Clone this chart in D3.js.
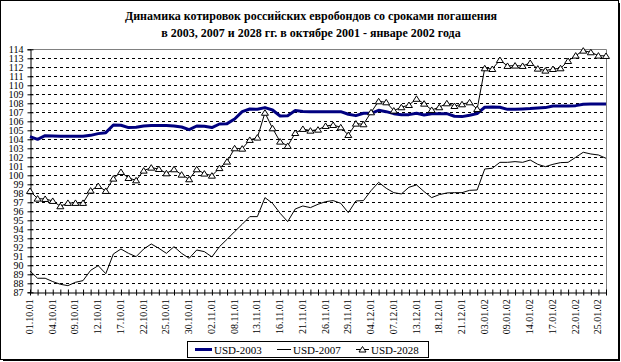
<!DOCTYPE html>
<html>
<head>
<meta charset="utf-8">
<script src="https://cdn.jsdelivr.net/npm/d3@7"></script>
<style>
  html, body { margin: 0; padding: 0; background: #fff; }
  svg text { font-family: "Liberation Serif", "Times New Roman", serif; fill: #000; }
</style>
</head>
<body>
<div id="main"></div>
<script>
// торговые дни (категории оси X)
const dates = [
  '01.10.01','02.10.01','03.10.01','04.10.01','05.10.01','08.10.01','09.10.01','10.10.01','11.10.01','12.10.01',
  '15.10.01','16.10.01','17.10.01','18.10.01','19.10.01','22.10.01','23.10.01','24.10.01','25.10.01','26.10.01',
  '29.10.01','30.10.01','31.10.01','01.11.01','02.11.01','05.11.01','06.11.01','08.11.01','09.11.01','12.11.01',
  '13.11.01','14.11.01','15.11.01','16.11.01','19.11.01','20.11.01','21.11.01','22.11.01','23.11.01','26.11.01',
  '27.11.01','28.11.01','29.11.01','30.11.01','03.12.01','04.12.01','05.12.01','06.12.01','07.12.01','10.12.01',
  '11.12.01','13.12.01','14.12.01','17.12.01','18.12.01','19.12.01','20.12.01','21.12.01','24.12.01','28.12.01',
  '03.01.02','04.01.02','08.01.02','09.01.02','10.01.02','11.01.02','14.01.02','15.01.02','16.01.02','17.01.02',
  '18.01.02','21.01.02','22.01.02','23.01.02','24.01.02','25.01.02','28.01.02'
];

const usd2003 = [
  104.3, 104.0, 104.4, 104.37, 104.33, 104.33, 104.33, 104.33, 104.44, 104.63,
  104.74, 105.59, 105.56, 105.3, 105.33, 105.48, 105.52, 105.52, 105.52, 105.48,
  105.37, 105.07, 105.48, 105.44, 105.3, 105.7, 105.74, 106.26, 107.07, 107.37,
  107.33, 107.52, 107.26, 106.59, 106.63, 107.19, 107.1, 107.07, 107.07, 107.07,
  107.07, 107.07, 106.78, 106.63, 106.89, 106.89, 107.22, 107.07, 106.85, 106.74,
  106.74, 106.9, 106.7, 106.85, 106.85, 106.85, 106.56, 106.52, 106.67, 106.85,
  107.56, 107.59, 107.56, 107.33, 107.33, 107.37, 107.41, 107.48, 107.52, 107.7,
  107.7, 107.7, 107.74, 107.89, 107.93, 107.93, 107.93
];

const usd2007 = [
  89.37, 88.56, 88.56, 88.19, 87.89, 87.74, 88.11, 88.3, 89.44, 89.96,
  89.07, 91.26, 91.81, 91.33, 90.96, 91.81, 92.37, 91.89, 91.33, 92.07,
  91.33, 90.78, 91.7, 91.52, 90.93, 92.07, 92.89, 93.74, 94.56, 95.41,
  95.41, 97.52, 96.89, 95.78, 94.85, 96.26, 96.59, 96.41, 96.78, 97.07,
  97.19, 96.89, 95.85, 97.15, 97.19, 98.3, 99.22, 98.56, 98.07, 97.93,
  98.67, 98.93, 98.19, 97.52, 97.85, 98.04, 98.07, 98.07, 98.33, 98.37,
  100.7, 100.78, 101.44, 101.44, 101.52, 101.44, 101.7, 101.22, 100.96, 101.22,
  101.41, 101.44, 102.0, 102.56, 102.37, 102.26, 101.89
];

const usd2028 = [
  98.26, 97.41, 97.37, 97.15, 96.56, 96.93, 96.93, 96.93, 98.3, 98.81,
  98.26, 99.63, 100.37, 99.7, 99.44, 100.52, 100.85, 100.7, 100.22, 100.67,
  100.07, 99.56, 100.67, 100.19, 99.96, 100.8, 101.52, 103.0, 102.96, 103.93,
  104.19, 106.95, 105.22, 103.74, 103.26, 104.7, 105.15, 104.96, 105.07, 105.48,
  105.59, 105.33, 104.48, 105.74, 105.67, 107.0, 108.22, 108.11, 107.19, 107.56,
  107.81, 108.5, 107.96, 107.26, 107.56, 108.0, 107.7, 107.89, 108.11, 107.37,
  111.89, 111.81, 112.81, 112.15, 112.19, 112.15, 112.48, 111.85, 111.63, 111.81,
  111.89, 112.7, 113.3, 113.85, 113.67, 113.3, 113.26
];

const yTicks = d3.range(87, 115);
const titleLines = [
  'Динамика котировок российских евробондов со сроками погашения',
  'в 2003, 2007 и 2028 гг. в октябре 2001 - январе 2002 года'
];
const seriesNames = ['USD-2003', 'USD-2007', 'USD-2028'];

class QuoteChart {
  constructor(config) {
    this.config = config;
    this.width = config.width;
    this.height = config.height;
    this.left = config.left;
    this.right = config.right;
    this.top = config.top;
    this.bottom = config.bottom;
    this.createSvg();
  }

  createSvg() {
    this.svg = d3.select(this.config.div)
      .append('svg')
      .attr('width', this.width)
      .attr('height', this.height);

    // рамка диаграммы с тенью
    this.svg.append('rect')
      .attr('x', 3).attr('y', 3)
      .attr('width', this.width - 4).attr('height', this.height - 4)
      .attr('fill', '#000');
    this.svg.append('rect')
      .attr('x', 0.5).attr('y', 0.5)
      .attr('width', this.width - 3).attr('height', this.height - 3)
      .attr('fill', '#fff')
      .attr('stroke', '#000');
  }

  createScales() {
    this.xScale = d3.scalePoint().domain(dates).range([this.left, this.width - this.right]);
    this.yScale = d3.scaleLinear().domain([87, 114]).range([this.height - this.bottom, this.top]);
  }

  createTitle() {
    this.svg.append('g')
      .selectAll('text')
      .data(titleLines)
      .enter()
      .append('text')
      .attr('x', 311)
      .attr('y', (d, i) => 20 + i * 17)
      .attr('text-anchor', 'middle')
      .style('font-size', '12px')
      .style('font-weight', 'bold')
      .text(d => d);
  }

  createGrid() {
    const y = this.yScale;
    this.svg.append('g')
      .selectAll('line')
      .data(yTicks.filter(d => d > 87 && d < 114))
      .enter()
      .append('line')
      .attr('x1', this.left)
      .attr('x2', this.width - this.right)
      .attr('y1', d => Math.round(y(d)) + 0.5)
      .attr('y2', d => Math.round(y(d)) + 0.5)
      .attr('stroke', '#000')
      .attr('stroke-dasharray', '3,3');

    // верх и правая граница области построения
    const r = this.width - this.right + 0.5;
    const t = Math.round(y(114)) + 0.5;
    this.svg.append('path')
      .attr('d', `M${this.left},${t}H${r}V${Math.round(y(87))}`)
      .attr('fill', 'none')
      .attr('stroke', '#808080');
  }

  createAxis() {
    const yAxis = d3.axisLeft(this.yScale).tickValues(yTicks).tickSize(3).tickPadding(4).tickFormat(d3.format('d'));
    const gy = this.svg.append('g')
      .attr('transform', `translate(${this.left + 0.5},0)`)
      .call(yAxis);
    gy.select('.domain').attr('stroke', '#000');
    gy.selectAll('.tick line').attr('x1', 3);
    gy.selectAll('.tick text').style('font-size', '10px').attr('dy', '0.34em');

    const xAxis = d3.axisBottom(this.xScale).tickSize(3).tickSizeOuter(0).tickFormat(() => '');
    const gx = this.svg.append('g')
      .attr('transform', `translate(0,${Math.round(this.yScale(87)) + 0.5})`)
      .call(xAxis);
    gx.selectAll('.tick line').attr('y1', -3);

    this.svg.append('g')
      .selectAll('text')
      .data(dates.filter((d, i) => i % 3 === 0))
      .enter()
      .append('text')
      .attr('transform', d => `translate(${this.xScale(d) + 3},${this.yScale(87) + 7}) rotate(-90)`)
      .attr('text-anchor', 'end')
      .style('font-size', '10px')
      .text(d => d);
  }

  createLines() {
    const x = this.xScale, y = this.yScale;
    const line = d3.line()
      .x((d, i) => x(dates[i]))
      .y(d => y(d));

    this.svg.append('path')
      .datum(usd2003)
      .attr('fill', 'none')
      .attr('stroke', '#000080')
      .attr('stroke-width', 3)
      .attr('stroke-linejoin', 'round')
      .attr('d', line);

    this.svg.append('path')
      .datum(usd2007)
      .attr('fill', 'none')
      .attr('stroke', '#000')
      .attr('stroke-width', 1)
      .attr('d', line);

    this.svg.append('path')
      .datum(usd2028)
      .attr('fill', 'none')
      .attr('stroke', '#000')
      .attr('stroke-width', 1)
      .attr('d', line);

    this.svg.append('g')
      .selectAll('path')
      .data(usd2028)
      .enter()
      .append('path')
      .attr('transform', (d, i) => `translate(${x(dates[i])},${y(d)})`)
      .attr('d', 'M0,-3L3.5,2.5L-3.5,2.5Z')
      .attr('fill', '#fff')
      .attr('stroke', '#000');
  }

  createLegend() {
    const g = this.svg.append('g');
    g.append('rect')
      .attr('x', 187.5).attr('y', 341.5)
      .attr('width', 241).attr('height', 16)
      .attr('fill', '#fff')
      .attr('stroke', '#000');

    const items = [
      { x1: 195, x2: 212, tx: 214, color: '#000080', w: 3, marker: false },
      { x1: 277, x2: 291, tx: 293, color: '#000', w: 1, marker: false },
      { x1: 356, x2: 369, tx: 371, color: '#000', w: 1, marker: true }
    ];
    items.forEach((it, i) => {
      g.append('line')
        .attr('x1', it.x1).attr('x2', it.x2)
        .attr('y1', 349.5).attr('y2', 349.5)
        .attr('stroke', it.color)
        .attr('stroke-width', it.w);
      if (it.marker) {
        g.append('path')
          .attr('transform', `translate(${(it.x1 + it.x2) / 2},349.5)`)
          .attr('d', 'M0,-3L3.5,2.5L-3.5,2.5Z')
          .attr('fill', '#fff')
          .attr('stroke', '#000');
      }
      g.append('text')
        .attr('x', it.tx).attr('y', 353.5)
        .style('font-size', '11px')
        .text(seriesNames[i]);
    });
  }
}

function startChart(object) {
  const chart = new QuoteChart(object);
  chart.createScales();
  chart.createTitle();
  chart.createGrid();
  chart.createAxis();
  chart.createLines();
  chart.createLegend();
}

startChart({ div: '#main', width: 621, height: 362, top: 49.3, left: 30, right: 15, bottom: 69.7 });
</script>
</body>
</html>
